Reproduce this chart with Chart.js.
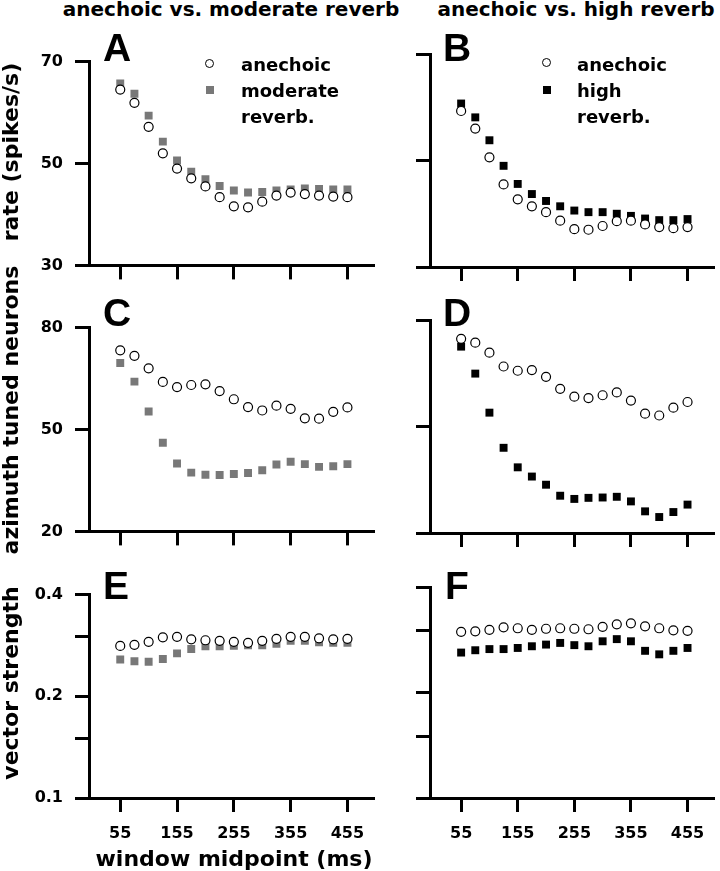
<!DOCTYPE html>
<html>
<head>
<meta charset="utf-8">
<script src="https://cdn.jsdelivr.net/npm/chart.js@4.4.1/dist/chart.umd.min.js"></script>
<style>
    body {
        margin: 0;
        background: #fff;
    }

    #figure {
        position: relative;
        width: 720px;
        height: 871px;
        overflow: hidden;
        font-family: "DejaVu Sans", sans-serif;
        font-weight: bold;
        color: #000;
    }

    #figure canvas {
        position: absolute;
    }

    .txt {
        position: absolute;
        white-space: nowrap;
        line-height: 1;
    }

    .letter {
        font-family: "Liberation Sans", Arial, sans-serif;
        font-size: 39px;
    }

    .legend-text {
        font-size: 18px;
    }

    .col-title {
        font-size: 20px;
        transform: translateX(-50%);
    }

    .y-title {
        font-size: 22px;
        transform: translate(-50%, -50%) rotate(-90deg);
    }

    .mark-circle {
        position: absolute;
        width: 9px;
        height: 9px;
        box-sizing: border-box;
        border: 1.2px solid #000;
        border-radius: 50%;
        background: #fff;
    }

    .mark-square {
        position: absolute;
        width: 8px;
        height: 8px;
    }
</style>
</head>
<body>
<div id="figure">
    <div class="txt col-title" style="left: 231px; top: -1px;">anechoic vs. moderate reverb</div>
    <div class="txt col-title" style="left: 576px; top: -1px;">anechoic vs. high reverb</div>

    <div class="txt y-title" style="left: 11px; top: 152px;">rate (spikes/s)</div>
    <div class="txt y-title" style="left: 11px; top: 410px;">azimuth tuned neurons</div>
    <div class="txt y-title" style="left: 11px; top: 683px;">vector strength</div>

    <div class="txt letter" style="left: 103px; top: 28px;">A</div>
    <div class="txt letter" style="left: 443px; top: 28px;">B</div>
    <div class="txt letter" style="left: 103px; top: 293px;">C</div>
    <div class="txt letter" style="left: 443px; top: 293px;">D</div>
    <div class="txt letter" style="left: 103px; top: 566px;">E</div>
    <div class="txt letter" style="left: 445px; top: 566px;">F</div>

    <span class="mark-circle" style="left: 205px; top: 59px;"></span>
    <span class="mark-square" style="left: 206px; top: 86px; background: #787878;"></span>
    <div class="txt legend-text" style="left: 241px; top: 56px;">anechoic</div>
    <div class="txt legend-text" style="left: 241px; top: 82px;">moderate</div>
    <div class="txt legend-text" style="left: 241px; top: 108px;">reverb.</div>

    <span class="mark-circle" style="left: 542px; top: 58px;"></span>
    <span class="mark-square" style="left: 543px; top: 86px; background: #000;"></span>
    <div class="txt legend-text" style="left: 577px; top: 56px;">anechoic</div>
    <div class="txt legend-text" style="left: 577px; top: 82px;">high</div>
    <div class="txt legend-text" style="left: 577px; top: 108px;">reverb.</div>

    <div class="txt col-title" style="left: 234px; top: 848px; font-size: 22px;">window midpoint (ms)</div>
</div>

<script>
const windowMidpoints = [55, 80, 105, 130, 155, 180, 205, 230, 255, 280, 305, 330, 355, 380, 405, 430, 455];
const xTicks = [55, 155, 255, 355, 455];

// rate (spikes/s)
const rateAnechoicA = [64.5, 61.9, 57.2, 52.0, 49.0, 47.1, 45.5, 43.4, 41.6, 41.4, 42.5, 43.7, 44.3, 44.0, 43.7, 43.5, 43.4];
const rateModerate = [65.7, 63.7, 59.4, 54.3, 50.6, 48.4, 46.9, 45.6, 44.7, 44.3, 44.4, 44.7, 44.9, 45.1, 45.0, 44.9, 44.9];
const rateAnechoicB = [59.3, 56.0, 50.6, 45.5, 42.7, 41.4, 40.3, 38.7, 37.1, 37.0, 37.7, 38.6, 38.7, 38.0, 37.5, 37.3, 37.5];
const rateHigh = [60.7, 58.1, 53.8, 49.0, 45.6, 43.7, 42.4, 41.4, 40.6, 40.3, 40.3, 40.0, 39.6, 39.1, 38.8, 38.8, 39.0];

// azimuth tuned neurons
const tunedAnechoicC = [73.3, 71.7, 68.0, 64.0, 62.5, 63.1, 63.3, 61.3, 58.9, 56.6, 55.6, 57.0, 56.1, 53.3, 53.2, 55.2, 56.5];
const tunedModerate = [69.6, 64.1, 55.3, 46.1, 40.0, 37.3, 36.7, 36.6, 36.9, 37.2, 38.0, 39.7, 40.5, 39.8, 39.0, 39.2, 39.8];
const tunedAnechoicD = [74.7, 73.6, 70.8, 66.9, 65.7, 65.9, 64.0, 60.6, 58.4, 58.0, 58.8, 59.6, 57.3, 53.6, 53.1, 55.3, 56.9];
const tunedHigh = [72.5, 64.9, 53.9, 44.0, 38.5, 35.9, 33.6, 30.5, 29.6, 29.9, 30.0, 30.2, 28.9, 26.1, 24.5, 25.9, 28.0];

// vector strength
const vsAnechoicE = [0.282, 0.284, 0.290, 0.299, 0.300, 0.295, 0.293, 0.292, 0.290, 0.288, 0.292, 0.296, 0.300, 0.300, 0.297, 0.295, 0.296];
const vsModerate = [0.257, 0.254, 0.253, 0.258, 0.268, 0.276, 0.281, 0.281, 0.282, 0.283, 0.283, 0.286, 0.292, 0.292, 0.289, 0.288, 0.288];
const vsAnechoicF = [0.298, 0.299, 0.302, 0.307, 0.305, 0.302, 0.304, 0.305, 0.304, 0.303, 0.308, 0.313, 0.315, 0.309, 0.305, 0.301, 0.300];
const vsHigh = [0.260, 0.264, 0.266, 0.266, 0.268, 0.271, 0.274, 0.277, 0.273, 0.271, 0.280, 0.284, 0.280, 0.263, 0.257, 0.263, 0.268];

const rateTicks = [30, 50, 70];
const tunedTicks = [20, 50, 80];
const vsTicks = [0.1, 0.15, 0.2, 0.3, 0.4];
const vsTickLabels = [0.1, 0.2, 0.4];

const moderateGrey = "#787878";
const tickFont = { family: "DejaVu Sans", size: 16, weight: "bold" };

const columns = {
    left: { left: 0, width: 380, axisWidth: 89 },
    right: { left: 380, width: 340, axisWidth: 50 }
};
const rows = {
    top: { chartTop: 54, chartBottom: 267, axisHeight: 20 },
    middle: { chartTop: 320, chartBottom: 533, axisHeight: 20 },
    bottom: { chartTop: 587, chartBottom: 798, axisHeight: 50 }
};

function toPoints(values) {
    return values.map((y, i) => ({ x: windowMidpoints[i], y }));
}

function axisLines() {
    return {
        grid: {
            display: true,
            drawOnChartArea: false,
            drawTicks: true,
            tickLength: 14,
            tickWidth: 3,
            lineWidth: 3,
            color: "#000"
        },
        border: { display: true, width: 3, color: "#000" }
    };
}

function renderPanel(panel) {
    const col = columns[panel.column];
    const row = rows[panel.row];
    const height = 14 + (row.chartBottom - row.chartTop) + row.axisHeight;

    const canvas = document.createElement("canvas");
    canvas.width = col.width;
    canvas.height = height;
    canvas.style.left = `${col.left}px`;
    canvas.style.top = `${row.chartTop - 14}px`;
    canvas.style.width = `${col.width}px`;
    canvas.style.height = `${height}px`;
    document.getElementById("figure").prepend(canvas);

    const yScale = panel.log
        ? { type: "logarithmic", min: 0.1, max: 0.4 }
        : { type: "linear", min: panel.yTicks[0], max: panel.yTicks[panel.yTicks.length - 1] };

    new Chart(canvas, {
        type: "scatter",
        data: {
            datasets: [
                {
                    label: "anechoic",
                    data: toPoints(panel.anechoic),
                    pointStyle: "circle",
                    pointRadius: 4.5,
                    pointBackgroundColor: "#fff",
                    pointBorderColor: "#000",
                    pointBorderWidth: 1.2
                },
                {
                    label: panel.reverbLabel,
                    data: toPoints(panel.reverb),
                    pointStyle: "rect",
                    pointRadius: 5.6,
                    pointBackgroundColor: panel.reverbColor,
                    pointBorderWidth: 0
                }
            ]
        },
        options: {
            responsive: false,
            animation: false,
            events: [],
            layout: { padding: { top: 14, right: 7, left: 0, bottom: 0 } },
            plugins: {
                legend: { display: false },
                tooltip: { enabled: false }
            },
            scales: {
                x: {
                    type: "linear",
                    min: 0,
                    max: 500,
                    afterBuildTicks(scale) {
                        scale.ticks = xTicks.map(value => ({ value }));
                    },
                    afterFit(scale) {
                        scale.height = row.axisHeight;
                    },
                    ...axisLines(),
                    ticks: {
                        display: panel.xLabels,
                        autoSkip: false,
                        maxRotation: 0,
                        padding: 12,
                        color: "#000",
                        font: tickFont
                    }
                },
                y: {
                    ...yScale,
                    afterBuildTicks(scale) {
                        scale.ticks = panel.yTicks.map(value => ({ value }));
                    },
                    afterFit(scale) {
                        scale.width = col.axisWidth;
                    },
                    ...axisLines(),
                    ticks: {
                        display: panel.yLabels,
                        autoSkip: false,
                        padding: 12,
                        color: "#000",
                        font: tickFont,
                        callback(value) {
                            if (panel.log) {
                                return vsTickLabels.includes(value) ? String(value) : "";
                            }
                            return String(value);
                        }
                    }
                }
            }
        }
    });
}

const panels = [
    { column: "left", row: "top", anechoic: rateAnechoicA, reverb: rateModerate, reverbLabel: "moderate reverb.", reverbColor: moderateGrey, yTicks: rateTicks, yLabels: true, xLabels: false },
    { column: "right", row: "top", anechoic: rateAnechoicB, reverb: rateHigh, reverbLabel: "high reverb.", reverbColor: "#000", yTicks: rateTicks, yLabels: false, xLabels: false },
    { column: "left", row: "middle", anechoic: tunedAnechoicC, reverb: tunedModerate, reverbLabel: "moderate reverb.", reverbColor: moderateGrey, yTicks: tunedTicks, yLabels: true, xLabels: false },
    { column: "right", row: "middle", anechoic: tunedAnechoicD, reverb: tunedHigh, reverbLabel: "high reverb.", reverbColor: "#000", yTicks: tunedTicks, yLabels: false, xLabels: false },
    { column: "left", row: "bottom", anechoic: vsAnechoicE, reverb: vsModerate, reverbLabel: "moderate reverb.", reverbColor: moderateGrey, yTicks: vsTicks, log: true, yLabels: true, xLabels: true },
    { column: "right", row: "bottom", anechoic: vsAnechoicF, reverb: vsHigh, reverbLabel: "high reverb.", reverbColor: "#000", yTicks: vsTicks, log: true, yLabels: false, xLabels: true }
];

panels.forEach(renderPanel);
</script>
</body>
</html>
